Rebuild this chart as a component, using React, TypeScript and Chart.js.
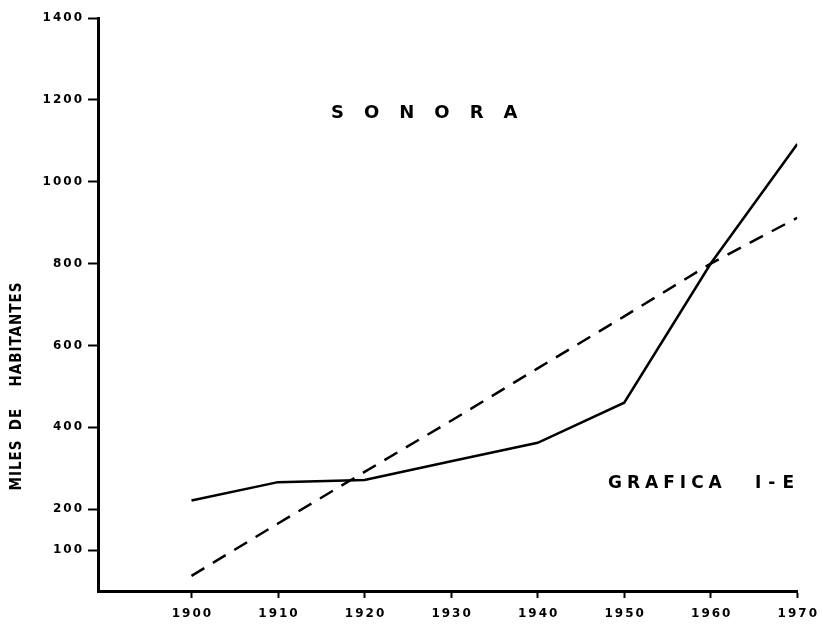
import React, { useEffect, useRef } from 'react';
import { Chart, registerables } from 'chart.js';

Chart.register(...registerables);

// ---- Data ----
const years = [1900, 1910, 1920, 1930, 1940, 1950, 1960, 1970];
const poblacionCenso = [221, 266, 271, 317, 362, 460, 800, 1092];
const tendencia = [37, 165, 291, 416, 544, 671, 800, 912];
const yTickValues = [100, 200, 400, 600, 800, 1000, 1200, 1400];
const chartTitle = 'SONORA';
const chartLabelMain = 'GRAFICA';
const chartLabelCode = 'I-E';
const yAxisWords = ['MILES', 'DE', 'HABITANTES'];

const TICK_FONT = '"DejaVu Sans", sans-serif';

const textPlugin = {
  id: 'sonoraText',
  beforeDraw(chart: any) {
    (chart.ctx as any).letterSpacing = '2px';
  },
  afterDraw(chart: any) {
    const ctx = chart.ctx as any;
    ctx.save();
    ctx.fillStyle = '#000';
    ctx.textBaseline = 'alphabetic';
    ctx.textAlign = 'left';

    ctx.font = 'bold 18px "DejaVu Sans", "Liberation Sans", sans-serif';
    ctx.letterSpacing = '20px';
    ctx.fillText(chartTitle, 331, 118);

    ctx.font = 'bold 17px "DejaVu Sans", "Liberation Sans", sans-serif';
    ctx.letterSpacing = '5px';
    ctx.fillText(chartLabelMain, 608, 488);
    ctx.letterSpacing = '7px';
    ctx.fillText(chartLabelCode, 755, 488);

    // vertical axis title
    ctx.translate(21, 0);
    ctx.rotate(-Math.PI / 2);
    ctx.font = 'bold 15px "DejaVu Sans Condensed", "Liberation Sans Narrow", "DejaVu Sans", sans-serif';
    ctx.letterSpacing = '1px';
    ctx.textAlign = 'center';
    const centers = [465, 419, 334];
    yAxisWords.forEach((w, i) => {
      ctx.fillText(w, -centers[i], 0);
    });
    ctx.restore();
  },
};

export default function App() {
  const ref = useRef<HTMLCanvasElement>(null);

  useEffect(() => {
    const chart = new Chart(ref.current as HTMLCanvasElement, {
      type: 'line',
      data: {
        datasets: [
          {
            label: 'Población',
            data: years.map((x, i) => ({ x, y: poblacionCenso[i] })),
            borderColor: '#000',
            borderWidth: 2.5,
            pointRadius: 0,
            tension: 0,
            fill: false,
          },
          {
            label: 'Tendencia',
            data: years.map((x, i) => ({ x, y: tendencia[i] })),
            borderColor: '#000',
            borderWidth: 2.5,
            borderDash: [15, 10],
            pointRadius: 0,
            tension: 0,
            fill: false,
          },
        ],
      },
      options: {
        animation: false,
        responsive: true,
        maintainAspectRatio: false,
        layout: { padding: { left: 0, top: 18, right: 23, bottom: 0 } },
        plugins: { legend: { display: false }, tooltip: { enabled: false } },
        scales: {
          x: {
            type: 'linear',
            min: 1889.2,
            max: 1970,
            afterBuildTicks: (s: any) => {
              s.ticks = years.map((v) => ({ value: v }));
            },
            afterFit: (s: any) => {
              s.height = 35;
            },
            grid: {
              drawOnChartArea: false,
              drawTicks: true,
              tickLength: 7,
              tickWidth: 2,
              tickColor: '#000',
            },
            border: { display: true, color: '#000', width: 3 },
            ticks: {
              color: '#000',
              font: { family: TICK_FONT, weight: 'bold', size: 12 },
              padding: 9,
              labelOffset: 1,
              maxRotation: 0,
              autoSkip: false,
              callback: (v: any) => String(v),
            },
          },
          y: {
            type: 'linear',
            min: 0,
            max: 1400,
            afterBuildTicks: (s: any) => {
              s.ticks = yTickValues.map((v) => ({ value: v }));
            },
            afterFit: (s: any) => {
              s.width = 98;
            },
            grid: {
              drawOnChartArea: false,
              drawTicks: true,
              tickLength: 10,
              tickWidth: 2,
              tickColor: '#000',
            },
            border: { display: true, color: '#000', width: 3 },
            ticks: {
              color: '#000',
              font: { family: TICK_FONT, weight: 'bold', size: 12 },
              padding: 4,
              autoSkip: false,
              callback: (v: any) => String(v),
            },
          },
        },
      } as any,
      plugins: [textPlugin],
    });
    return () => chart.destroy();
  }, []);

  return (
    <div style={{ position: 'fixed', left: 0, top: 0, width: 823, height: 626, background: '#fff' }}>
      <canvas ref={ref} />
    </div>
  );
}
